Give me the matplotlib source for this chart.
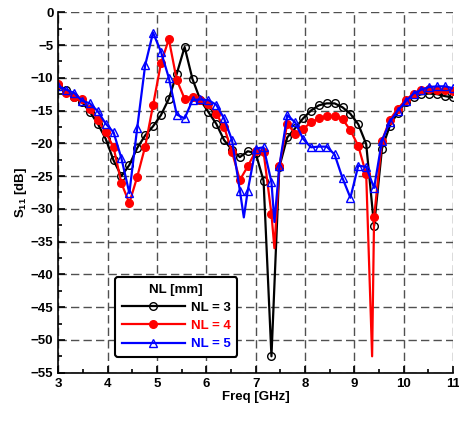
"""
S11 vs frequency for three NL values, with the deep resonance dips
between measured sweep points kept as unmarked line points.
"""

import matplotlib.pyplot as plt

# sweep frequencies [GHz]
FREQ = [3.00, 3.16, 3.32, 3.48, 3.64, 3.80, 3.96, 4.12, 4.28, 4.44,
        4.60, 4.76, 4.92, 5.08, 5.24, 5.40, 5.56, 5.72, 5.88, 6.04,
        6.20, 6.36, 6.52, 6.68, 6.84, 7.00, 7.16, 7.32, 7.48, 7.64,
        7.80, 7.96, 8.12, 8.28, 8.44, 8.60, 8.76, 8.92, 9.08, 9.24,
        9.40, 9.56, 9.72, 9.88, 10.04, 10.20, 10.36, 10.52, 10.68, 10.84,
        11.00]

# S11 [dB] at the sweep points
S11_NL3 = [-11.1, -11.9, -12.9, -13.7, -15.2, -17.0, -19.3, -22.6, -25.0, -23.3,
           -20.7, -18.8, -17.4, -15.7, -13.2, -9.4, -5.3, -10.2, -13.4, -15.2,
           -17.0, -19.5, -21.0, -22.1, -21.2, -21.5, -25.7, -52.5, -23.6, -19.1,
           -17.7, -16.2, -15.0, -14.2, -13.9, -13.9, -14.5, -15.5, -17.1, -20.1,
           -32.6, -20.8, -17.3, -15.3, -13.7, -12.9, -12.5, -12.4, -12.5, -12.8,
           -13.0]
S11_NL4 = [-10.9, -12.3, -12.9, -13.3, -14.7, -16.4, -18.3, -20.6, -26.1, -29.1,
           -25.1, -20.5, -14.2, -7.8, -4.1, -10.3, -13.2, -12.9, -13.4, -14.0,
           -15.5, -17.5, -21.3, -25.6, -23.5, -21.2, -21.3, -30.8, -23.5, -17.0,
           -18.5, -17.8, -16.8, -16.2, -15.9, -15.9, -16.3, -18.0, -20.4, -24.7,
           -31.3, -19.6, -16.4, -14.7, -13.4, -12.4, -11.8, -11.7, -11.8, -11.8,
           -12.0]
S11_NL5 = [-11.3, -11.8, -12.3, -13.5, -13.9, -15.1, -17.0, -18.3, -22.3, -27.6,
           -17.6, -8.1, -3.1, -6.0, -10.0, -15.6, -16.2, -13.4, -13.3, -13.4,
           -14.1, -16.2, -19.5, -27.2, -27.2, -20.8, -20.6, -25.9, -23.5, -15.7,
           -16.8, -19.3, -20.6, -20.5, -20.5, -21.7, -25.3, -28.3, -23.4, -23.6,
           -26.8, -19.6, -16.7, -15.0, -13.6, -12.4, -11.8, -11.4, -11.3, -11.3,
           -11.6]

# resonance minima that fall between sweep points (drawn without markers)
DIP_NL3 = ([], [])
DIP_NL4 = ([7.38, 9.36], [-36.0, -52.5])
DIP_NL5 = ([6.76, 7.38], [-31.3, -32.0])

SERIES = [
    ("NL = 3", S11_NL3, DIP_NL3, "black", "o", "none"),
    ("NL = 4", S11_NL4, DIP_NL4, "red", "o", "red"),
    ("NL = 5", S11_NL5, DIP_NL5, "blue", "^", "none"),
]

X_TICKS = [3, 4, 5, 6, 7, 8, 9, 10, 11]
Y_TICKS = [0, -5, -10, -15, -20, -25, -30, -35, -40, -45, -50, -55]

plt.rcParams["font.family"] = ["Liberation Sans", "DejaVu Sans"]
plt.rcParams["font.weight"] = "bold"
plt.rcParams["mathtext.fontset"] = "custom"
plt.rcParams["mathtext.rm"] = "Liberation Sans:bold"
plt.rcParams["mathtext.bf"] = "Liberation Sans:bold"
plt.rcParams["mathtext.default"] = "bf"

FS = 9.5


def merge(freq, vals, dip):
    """Merge sweep points with extra dip points; return x, y, marker mask."""
    pts = [(f, v, True) for f, v in zip(freq, vals)]
    pts += [(f, v, False) for f, v in zip(dip[0], dip[1])]
    pts.sort(key=lambda p: p[0])
    return [p[0] for p in pts], [p[1] for p in pts], [p[2] for p in pts]


fig = plt.figure(figsize=(4.59, 4.24), dpi=100)
ax = fig.add_axes([0.127, 0.121, 0.860, 0.850])

for label, vals, dip, color, marker, face in SERIES:
    x, y, mask = merge(FREQ, vals, dip)
    ax.plot(x, y, color=color, linewidth=1.6, marker=marker, markersize=5.5,
            markerfacecolor=face, markeredgecolor=color, markeredgewidth=1.0,
            markevery=mask, label=label)

ax.set_xlim(3, 11)
ax.set_ylim(-55, 0)
ax.set_xticks(X_TICKS)
ax.set_yticks(Y_TICKS)
ax.set_xticks([3.5 + i for i in range(8)], minor=True)
ax.set_yticks([-2.5 - 5 * i for i in range(11)], minor=True)
ax.tick_params(which="both", direction="in", labelsize=FS, width=1.2)
ax.tick_params(which="major", length=5)
ax.tick_params(which="minor", length=3)

ax.grid(True, which="major", linestyle=(0, (6, 3)), color="#505050",
        linewidth=1.0)
for side in ("top", "right"):
    ax.spines[side].set_visible(False)
for side in ("left", "bottom"):
    ax.spines[side].set_linewidth(1.2)

ax.set_xlabel("Freq [GHz]", fontsize=FS, fontweight="bold", labelpad=1)
ax.set_ylabel("S$_{11}$ [dB]", fontsize=FS, fontweight="bold", labelpad=1)

leg = ax.legend(title="NL [mm]", loc="lower left",
                bbox_to_anchor=(0.144, 0.044), borderaxespad=0,
                fontsize=FS, title_fontsize=FS, handlelength=4.8,
                handletextpad=0.45, labelspacing=0.45, borderpad=0.5,
                framealpha=1, fancybox=True, edgecolor="black")
leg.get_frame().set_linewidth(1.5)
leg.get_title().set_fontweight("bold")
for text, (_, _, _, color, _, _) in zip(leg.get_texts(), SERIES):
    text.set_color(color)
    text.set_fontweight("bold")

fig.savefig("out.png", dpi=100)
